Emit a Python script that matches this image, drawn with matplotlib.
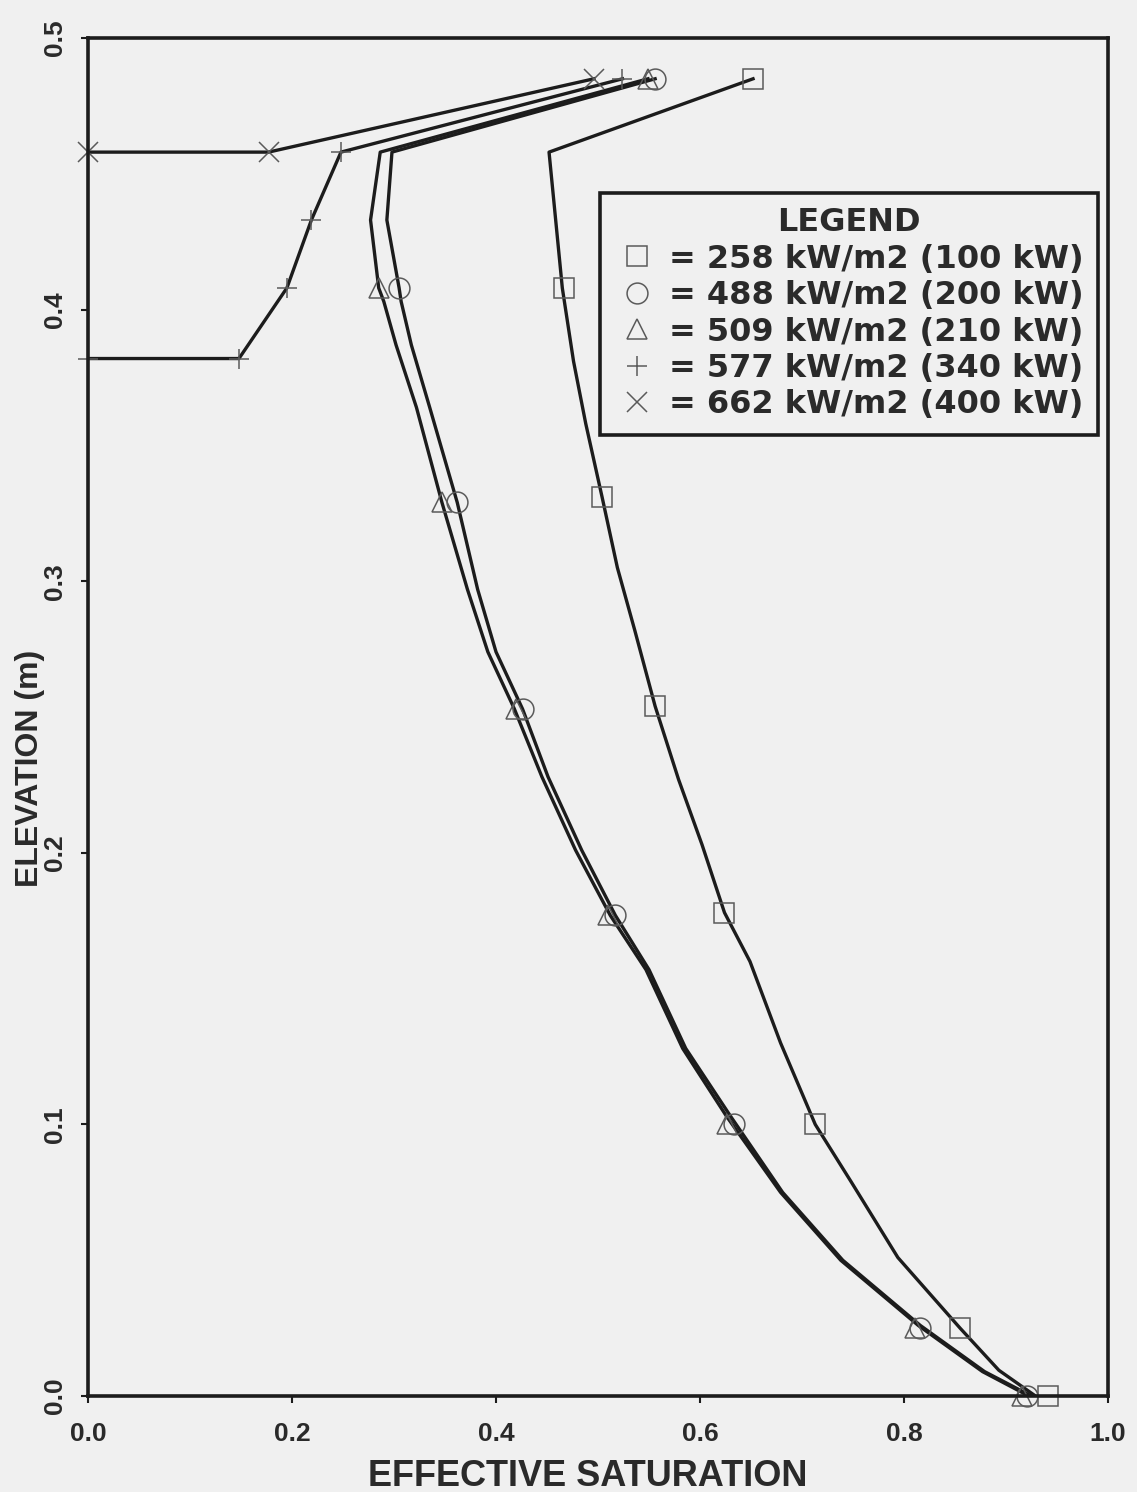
import matplotlib
matplotlib.use("Agg")
import matplotlib.pyplot as plt

plt.rcParams['font.family'] = ['Liberation Sans', 'DejaVu Sans']

# saturation profiles (x = effective saturation, y = elevation m)
# 258 kW/m2 (100 kW)
sq_line_x = [0.652, 0.452, 0.465, 0.476, 0.488, 0.504, 0.519, 0.536, 0.556, 0.579,
             0.602, 0.624, 0.649, 0.679, 0.713, 0.748, 0.794, 0.855, 0.893, 0.929]
sq_line_y = [0.485, 0.458, 0.408, 0.381, 0.358, 0.331, 0.305, 0.282, 0.254, 0.227,
             0.203, 0.178, 0.160, 0.130, 0.100, 0.079, 0.051, 0.025, 0.0095, 0.0]
sq_mark_x = [0.652, 0.467, 0.504, 0.556, 0.624, 0.713, 0.855, 0.941]
sq_mark_y = [0.485, 0.408, 0.331, 0.254, 0.178, 0.100, 0.025, 0.0]

# 488 kW/m2 (200 kW)
ci_line_x = [0.556, 0.298, 0.293, 0.305, 0.307, 0.317, 0.335, 0.362, 0.382, 0.400, 0.426,
             0.451, 0.484, 0.517, 0.550, 0.586, 0.630, 0.681, 0.740, 0.816, 0.879, 0.925]
ci_line_y = [0.485, 0.458, 0.433, 0.408, 0.403, 0.387, 0.364, 0.329, 0.297, 0.274, 0.253,
             0.228, 0.201, 0.177, 0.157, 0.128, 0.103, 0.075, 0.050, 0.026, 0.009, 0.0]
ci_mark_x = [0.556, 0.305, 0.362, 0.426, 0.517, 0.633, 0.816, 0.921]
ci_mark_y = [0.485, 0.408, 0.329, 0.253, 0.177, 0.100, 0.025, 0.0]

# 509 kW/m2 (210 kW)
tr_line_x = [0.549, 0.2865, 0.277, 0.285, 0.290, 0.302, 0.322, 0.347, 0.372, 0.392, 0.418,
             0.445, 0.478, 0.512, 0.547, 0.583, 0.626, 0.679, 0.738, 0.814, 0.877, 0.9225]
tr_line_y = [0.485, 0.458, 0.433, 0.408, 0.403, 0.387, 0.364, 0.329, 0.297, 0.274, 0.253,
             0.228, 0.201, 0.177, 0.157, 0.128, 0.103, 0.075, 0.050, 0.026, 0.009, 0.0]
tr_mark_x = [0.549, 0.285, 0.347, 0.420, 0.510, 0.626, 0.811, 0.916]
tr_mark_y = [0.485, 0.408, 0.329, 0.253, 0.177, 0.100, 0.025, 0.0]

# 577 kW/m2 (340 kW)
pl_x = [0.524, 0.248, 0.219, 0.195, 0.148, 0.0]
pl_y = [0.485, 0.458, 0.433, 0.408, 0.382, 0.382]

# 662 kW/m2 (400 kW)
xx_x = [0.496, 0.177, 0.0]
xx_y = [0.485, 0.458, 0.458]

labels = ['= 258 kW/m2 (100 kW)', '= 488 kW/m2 (200 kW)', '= 509 kW/m2 (210 kW)',
          '= 577 kW/m2 (340 kW)', '= 662 kW/m2 (400 kW)']
xticks = [0.0, 0.2, 0.4, 0.6, 0.8, 1.0]
yticks = [0.0, 0.1, 0.2, 0.3, 0.4, 0.5]

bg = '#f0f0f0'
ink = '#1c1c1c'
txt = '#2a2a2a'
mk = '#5a5a5a'

fig = plt.figure(figsize=(11.37, 14.92), dpi=100, facecolor=bg)
ax = fig.add_axes([0.0774, 0.0643, 0.8971, 0.9102])
ax.set_facecolor(bg)

lw = 2.4
# lines
ax.plot(sq_line_x, sq_line_y, color=ink, lw=lw)
ax.plot(ci_line_x, ci_line_y, color=ink, lw=lw)
ax.plot(tr_line_x, tr_line_y, color=ink, lw=lw)
ax.plot(pl_x, pl_y, color=ink, lw=lw)
ax.plot(xx_x, xx_y, color=ink, lw=lw)

# markers
mkw = dict(ls='none', mfc='none', mec=mk, mew=1.1, clip_on=False)
h1, = ax.plot(sq_mark_x, sq_mark_y, marker='s', ms=14, **mkw)
h2, = ax.plot(ci_mark_x, ci_mark_y, marker='o', ms=15, **mkw)
h3, = ax.plot(tr_mark_x, tr_mark_y, marker='^', ms=14, **mkw)
h4, = ax.plot(pl_x, pl_y, marker='+', ms=15, **mkw)
h5, = ax.plot(xx_x, xx_y, marker='x', ms=14, **mkw)

ax.set_xlim(0, 1.0)
ax.set_ylim(0, 0.5)
ax.set_xticks(xticks)
ax.set_xticklabels(['%.1f' % t for t in xticks], fontsize=19, fontweight='bold', color=txt)
ax.set_yticks(yticks)
ax.set_yticklabels(['%.1f' % t for t in yticks], fontsize=19, fontweight='bold',
                   color=txt, rotation=90, va='center')
ax.tick_params(axis='x', direction='out', length=5, width=1.5, pad=14, color=ink)
ax.tick_params(axis='y', direction='out', length=5, width=1.5, pad=10, color=ink)
for s in ax.spines.values():
    s.set_linewidth(2.6)
    s.set_color(ink)

ax.set_xlabel('EFFECTIVE SATURATION', fontsize=26, fontweight='bold', color=txt)
ax.xaxis.set_label_coords(0.49, -0.046)
ax.set_ylabel('ELEVATION (m)', fontsize=23, fontweight='bold', color=txt)
ax.yaxis.set_label_coords(-0.042, 0.462)

lfont = {'family': 'DejaVu Sans', 'size': 23, 'weight': 'bold'}
leg = ax.legend([h1, h2, h3, h4, h5], labels, title='LEGEND', loc='upper right',
                bbox_to_anchor=(0.990, 0.886), fancybox=False, framealpha=1,
                facecolor=bg, edgecolor=ink, prop=lfont, title_fontproperties=lfont,
                handlelength=1.4, handletextpad=0.3, labelspacing=0.17,
                borderpad=0.45, borderaxespad=0)
leg.get_frame().set_linewidth(2.6)
for t in leg.get_texts():
    t.set_color(txt)
leg.get_title().set_color(txt)

fig.savefig('out.png', dpi=100, facecolor=bg)
